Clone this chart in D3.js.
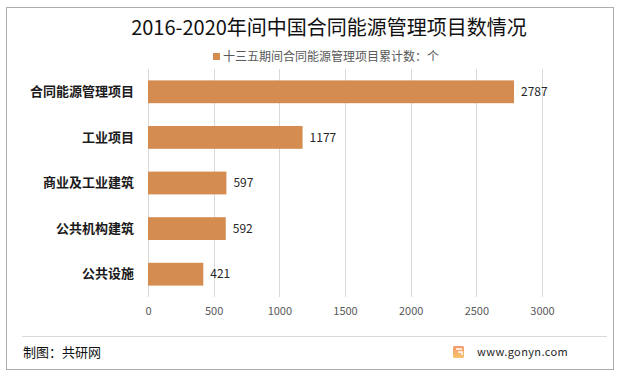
<!DOCTYPE html>
<html>
<head>
<meta charset="utf-8">
<script src="https://cdn.jsdelivr.net/npm/d3@7"></script>
<style>
  body { margin: 0; background: #fff; }
  text { font-family: "Noto Sans CJK SC", "Noto Sans", sans-serif; }
</style>
</head>
<body>
<script>
// Data
const categories = ['合同能源管理项目', '工业项目', '商业及工业建筑', '公共机构建筑', '公共设施'];
const values = [2787, 1177, 597, 592, 421];
const xTicks = [0, 500, 1000, 1500, 2000, 2500, 3000];
const seriesName = '十三五期间合同能源管理项目累计数：个';

const W = 621, H = 376;
const margin = {top: 69, right: 79, bottom: 79, left: 148};
const width = W - margin.left - margin.right;
const height = H - margin.top - margin.bottom;
const barColor = '#D48C50';

const svg = d3.select('body')
  .append('svg')
  .attr('width', W)
  .attr('height', H);

// Outer frame
svg.append('rect')
  .attr('x', 6.5).attr('y', 7.5)
  .attr('width', 607).attr('height', 362)
  .attr('fill', '#fff')
  .attr('stroke', '#ABABAB');

// Title
svg.append('text')
  .attr('x', 329).attr('y', 35)
  .attr('text-anchor', 'middle')
  .attr('font-size', '20px')
  .attr('fill', '#111')
  .text('2016-2020年间中国合同能源管理项目数情况');

// Legend
svg.append('rect')
  .attr('x', 213).attr('y', 53)
  .attr('width', 7).attr('height', 7)
  .attr('fill', barColor);
svg.append('text')
  .attr('x', 223).attr('y', 61)
  .attr('font-size', '12px')
  .attr('fill', '#595959')
  .text(seriesName);

const g = svg.append('g')
  .attr('transform', `translate(${margin.left}, ${margin.top})`);

// Scales
const xScale = d3.scaleLinear()
  .domain([0, 3000])
  .range([0, width]);

const yScale = d3.scaleBand()
  .domain(categories)
  .range([0, height])
  .paddingInner(0.5)
  .paddingOuter(0.25);

// Grid
g.selectAll('line.grid')
  .data(xTicks)
  .enter()
  .append('line')
  .attr('class', 'grid')
  .attr('x1', d => Math.round(xScale(d)) + 0.5)
  .attr('x2', d => Math.round(xScale(d)) + 0.5)
  .attr('y1', 0)
  .attr('y2', height)
  .attr('stroke', '#D9D9D9');

// X axis labels
const xAxis = d3.axisBottom(xScale)
  .tickValues(xTicks)
  .tickSize(0)
  .tickPadding(10)
  .tickFormat(d3.format('d'));

g.append('g')
  .attr('transform', `translate(0, ${height})`)
  .call(xAxis)
  .call(s => s.select('.domain').remove())
  .selectAll('text')
  .attr('font-size', '11px')
  .attr('fill', '#595959')
  .attr('font-family', '"Noto Sans CJK SC", "Noto Sans", sans-serif');

// Y axis labels
const yAxis = d3.axisLeft(yScale)
  .tickSize(0)
  .tickPadding(14);

g.append('g')
  .call(yAxis)
  .call(s => s.select('.domain').remove())
  .selectAll('text')
  .attr('font-size', '13px')
  .attr('font-weight', 'bold')
  .attr('fill', '#1a1a1a')
  .attr('font-family', '"Noto Sans CJK SC", "Noto Sans", sans-serif');

// Bars
g.selectAll('rect.bar')
  .data(values)
  .enter()
  .append('rect')
  .attr('class', 'bar')
  .attr('x', 0)
  .attr('y', (d, i) => yScale(categories[i]))
  .attr('width', d => xScale(d))
  .attr('height', yScale.bandwidth())
  .attr('fill', barColor);

// Value labels
g.selectAll('text.val')
  .data(values)
  .enter()
  .append('text')
  .attr('class', 'val')
  .attr('x', d => xScale(d) + 7)
  .attr('y', (d, i) => yScale(categories[i]) + yScale.bandwidth() / 2)
  .attr('dy', '0.35em')
  .attr('font-size', '12px')
  .attr('fill', '#262626')
  .text(d => d);

// Footer
svg.append('line')
  .attr('x1', 22).attr('x2', 607)
  .attr('y1', 336.5).attr('y2', 336.5)
  .attr('stroke', '#D9D9D9');

svg.append('text')
  .attr('x', 23).attr('y', 357)
  .attr('font-size', '13px')
  .attr('fill', '#111')
  .text('制图：共研网');

// Logo
const grad = svg.append('defs').append('linearGradient')
  .attr('id', 'lg').attr('x1', 0).attr('y1', 0).attr('x2', 0).attr('y2', 1);
grad.append('stop').attr('offset', '0%').attr('stop-color', '#F39A6B');
grad.append('stop').attr('offset', '100%').attr('stop-color', '#F7C36A');
svg.append('rect')
  .attr('x', 453).attr('y', 346)
  .attr('width', 11).attr('height', 12)
  .attr('rx', 1.5)
  .attr('fill', 'url(#lg)');
svg.append('path')
  .attr('d', 'M456,349 h6 M458,352 h4 v3')
  .attr('stroke', '#fff')
  .attr('stroke-width', 1.5)
  .attr('fill', 'none');

svg.append('text')
  .attr('x', 477).attr('y', 356)
  .attr('font-size', '11px')
  .attr('fill', '#262626')
  .attr('letter-spacing', '0.4px')
  .text('www.gonyn.com');
</script>
</body>
</html>
